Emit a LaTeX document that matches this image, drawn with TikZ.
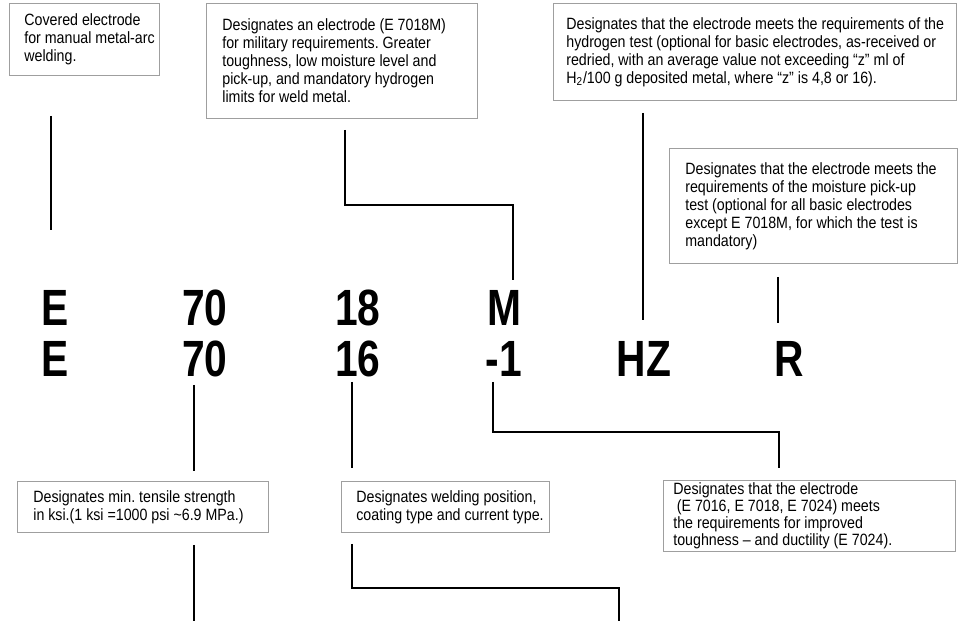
\documentclass[tikz,border=0pt]{standalone}
\usepackage{fontspec}
\setmainfont{Liberation Sans}
\newfontfamily\notefamily{Liberation Sans}[FakeStretch=0.87]
\newfontfamily\codefamily{Liberation Sans}[FakeStretch=0.8]
\usetikzlibrary{positioning}
\newcommand{\notefont}{\notefamily\fontsize{9.3}{10.24}\selectfont\frenchspacing}
\newcommand{\codefont}{\codefamily\bfseries\fontsize{29}{30}\selectfont}

\begin{document}
\begin{tikzpicture}[
    x=0.02cm, y=-0.02cm,
    box/.style={draw=gray!75, line width=0.5pt, anchor=north west, inner sep=0pt},
    note/.style={align=left, font=\notefont, inner sep=0pt},
    code/.style={font=\codefont, anchor=base, inner sep=0pt},
    lead/.style={line width=1.7pt}
]
    \useasboundingbox (0,0) rectangle (958,621);

    % Top notes
    \node[box, minimum width=3cm, minimum height=1.44cm] (cov) at (9,3) {};
    \node[note, right=0.3cm of cov.west] (covT) {Covered electrode\\for manual metal-arc\\welding.};
    \node[box, minimum width=5.42cm, minimum height=2.3cm] (mil) at (206,3) {};
    \node[note, right=0.32cm of mil.west] (milT) {Designates an electrode (E 7018M)\\for military requirements. Greater\\toughness, low moisture level and\\pick-up, and mandatory hydrogen\\limits for weld metal.};
    \node[box, minimum width=8.06cm, minimum height=1.94cm] (hyd) at (553,3) {};
    \node[note, right=0.26cm of hyd.west] (hydT) {Designates that the electrode meets the requirements of the\\hydrogen test (optional for basic electrodes, as-received or\\redried, with an average value not exceeding “z” ml of\\H\textsubscript{2}/100 g deposited metal, where “z” is 4,8 or 16).};
    \node[box, minimum width=5.76cm, minimum height=2.3cm] (moi) at (669,148) {};
    \node[note, right=0.32cm of moi.west] (moiT) {Designates that the electrode meets the\\requirements of the moisture pick-up\\test (optional for all basic electrodes\\except E 7018M, for which the test is\\mandatory)};

    % Designation rows
    \node[code] (e1) at (55,326) {E};
    \node[code] (n1) at (205,326) {70};
    \node[code] (p1) at (358,326) {18};
    \node[code] (m1) at (504,326) {M};
    \node[code] (e2) at (55,377) {E};
    \node[code] (n2) at (205,377) {70};
    \node[code] (p2) at (358,377) {16};
    \node[code] (d2) at (504,377) {-1};
    \node[code] (h2) at (644,377) {HZ};
    \node[code] (r2) at (789,377) {R};

    % Bottom notes
    \node[box, minimum width=5.02cm, minimum height=1.02cm] (ten) at (17,481) {};
    \node[note, right=0.32cm of ten.west] (tenT) {Designates min. tensile strength\\in ksi.(1 ksi =1000 psi \textasciitilde6.9 MPa.)};
    \node[box, minimum width=4.16cm, minimum height=1.02cm] (pos) at (341,481) {};
    \node[note, right=0.3cm of pos.west] (posT) {Designates welding position,\\coating type and current type.};
    \node[box, minimum width=5.84cm, minimum height=1.42cm] (tou) at (663,480) {};
    \node[note, font=\notefont\fontsize{9.3}{9.6}\selectfont, right=0.2cm of tou.west] (touT) {Designates that the electrode\\\hspace{2pt}(E 7016, E 7018, E 7024) meets\\the requirements for improved\\toughness – and ductility (E 7024).};

    % Lead ends
    \coordinate (eTop) at (51,116);   \coordinate (eBot) at (51,230);
    \coordinate (mTop) at (345,130);  \coordinate (mBend) at (345,205);  \coordinate (mBot) at (513,280);
    \coordinate (hTop) at (643,113);  \coordinate (hBot) at (643,320);
    \coordinate (rTop) at (778,277);  \coordinate (rBot) at (778,323);
    \coordinate (nTop) at (194,385);  \coordinate (nBot) at (194,471);
    \coordinate (nLow) at (194,545);  \coordinate (nEnd) at (194,621);
    \coordinate (pTop) at (352,382);  \coordinate (pBot) at (352,468);
    \coordinate (pLow) at (352,544);  \coordinate (pBend) at (352,588);  \coordinate (pEnd) at (619,621);
    \coordinate (dTop) at (493,382);  \coordinate (dBend) at (493,432);  \coordinate (dBot) at (779,468);

    % Leads
    \draw[lead] (eTop) -- (eBot);
    \draw[lead] (mTop) -- (mBend) -| (mBot);
    \draw[lead] (hTop) -- (hBot);
    \draw[lead] (rTop) -- (rBot);
    \draw[lead] (nTop) -- (nBot);
    \draw[lead] (nLow) -- (nEnd);
    \draw[lead] (pTop) -- (pBot);
    \draw[lead] (pLow) -- (pBend) -| (pEnd);
    \draw[lead] (dTop) -- (dBend) -| (dBot);
\end{tikzpicture}
\end{document}
